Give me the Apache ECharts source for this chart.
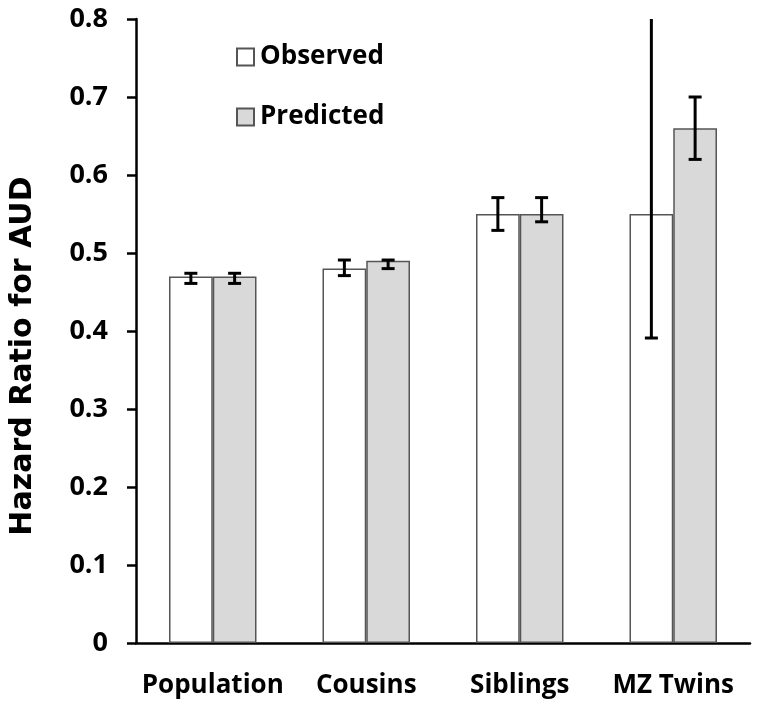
<!DOCTYPE html>
<html>
<head>
<meta charset="utf-8">
<script src="https://cdn.jsdelivr.net/npm/echarts@6/dist/echarts.min.js"></script>
<style>
  html, body { margin: 0; background: #fff; }
  #chart { width: 758px; height: 709px; }
</style>
</head>
<body>
<div id="chart"></div>
<script>
// data
const categories = ['Population', 'Cousins', 'Siblings', 'MZ Twins'];
const observed = [0.47, 0.48, 0.55, 0.55];
const observedLow = [0.461, 0.471, 0.529, 0.391];
const observedHigh = [0.474, 0.491, 0.571, 0.8];
const predicted = [0.47, 0.49, 0.55, 0.66];
const predictedLow = [0.461, 0.48, 0.54, 0.62];
const predictedHigh = [0.474, 0.491, 0.571, 0.70];

const yMin = 0;
const yMax = 0.8;
const yStep = 0.1;
const gapRatio = 0.43;
const font = '"Open Sans", sans-serif';

const chart = echarts.init(document.getElementById('chart'));

// error bars drawn at the centre of each bar of a pair (side -1 = left, +1 = right)
const errorBars = (name, low, high, side) => ({
  name: name,
  type: 'custom',
  z: 10,
  data: categories.map((c, i) => [i, low[i], high[i]]),
  encode: { x: 0, y: [1, 2] },
  renderItem: (params, api) => {
    const i = api.value(0);
    const band = api.size([1, 0])[0];
    const barW = band * (1 - gapRatio) / 2;
    const x = api.coord([i, 0])[0] + side * barW / 2;
    const lo = api.coord([i, api.value(1)])[1];
    const hi = api.coord([i, api.value(2)])[1];
    const cap = 6.5;
    const style = { stroke: '#000', lineWidth: 3 };
    const children = [
      { type: 'line', shape: { x1: x, y1: lo, x2: x, y2: hi }, style },
      { type: 'line', shape: { x1: x - cap, y1: lo, x2: x + cap, y2: lo }, style },
    ];
    if (api.value(2) < yMax) {
      children.push({ type: 'line', shape: { x1: x - cap, y1: hi, x2: x + cap, y2: hi }, style });
    }
    return { type: 'group', children };
  },
});

const option = {
  animation: false,
  backgroundColor: '#fff',
  grid: { left: 136, right: 8, top: 19, bottom: 66 },
  legend: {
    orient: 'vertical',
    left: 231,
    top: 39,
    itemGap: 34,
    itemWidth: 17,
    itemHeight: 17,
    icon: 'rect',
    data: ['Observed', 'Predicted'],
    textStyle: { fontFamily: font, fontWeight: 'bold', fontSize: 26, color: '#000', padding: [0, 0, 0, 1] },
  },
  xAxis: {
    type: 'category',
    data: categories,
    axisLine: { lineStyle: { color: '#000', width: 2.5 } },
    axisTick: { length: 10, lineStyle: { color: '#000', width: 2.5 } },
    axisLabel: { interval: 0, fontFamily: font, fontWeight: 'bold', fontSize: 26, color: '#000', margin: 30 },
  },
  yAxis: {
    type: 'value',
    min: yMin,
    max: yMax,
    interval: yStep,
    name: 'Hazard Ratio for AUD',
    nameLocation: 'middle',
    nameGap: 98,
    nameTextStyle: { fontFamily: '"DejaVu Sans", sans-serif', fontWeight: 'bold', fontSize: 30, color: '#000', padding: [0, 50, 0, 0] },
    axisLine: { show: true, lineStyle: { color: '#000', width: 2.5 } },
    axisTick: { show: true, length: 9, lineStyle: { color: '#000', width: 2.5 } },
    splitLine: { show: false },
    axisLabel: {
      fontFamily: font, fontWeight: 'bold', fontSize: 27, color: '#000', margin: 28,
      formatter: v => (v === 0 ? '0' : v.toFixed(1)),
    },
  },
  series: [
    {
      name: 'Observed',
      type: 'bar',
      data: observed,
      barGap: '0%',
      barCategoryGap: (gapRatio * 100) + '%',
      itemStyle: { color: '#fff', borderColor: '#555', borderWidth: 1.5 },
    },
    {
      name: 'Predicted',
      type: 'bar',
      data: predicted,
      itemStyle: { color: '#d9d9d9', borderColor: '#555', borderWidth: 1.5 },
    },
    errorBars('Observed error', observedLow, observedHigh, -1),
    errorBars('Predicted error', predictedLow, predictedHigh, 1),
  ],
};

chart.setOption(option);
</script>
</body>
</html>
